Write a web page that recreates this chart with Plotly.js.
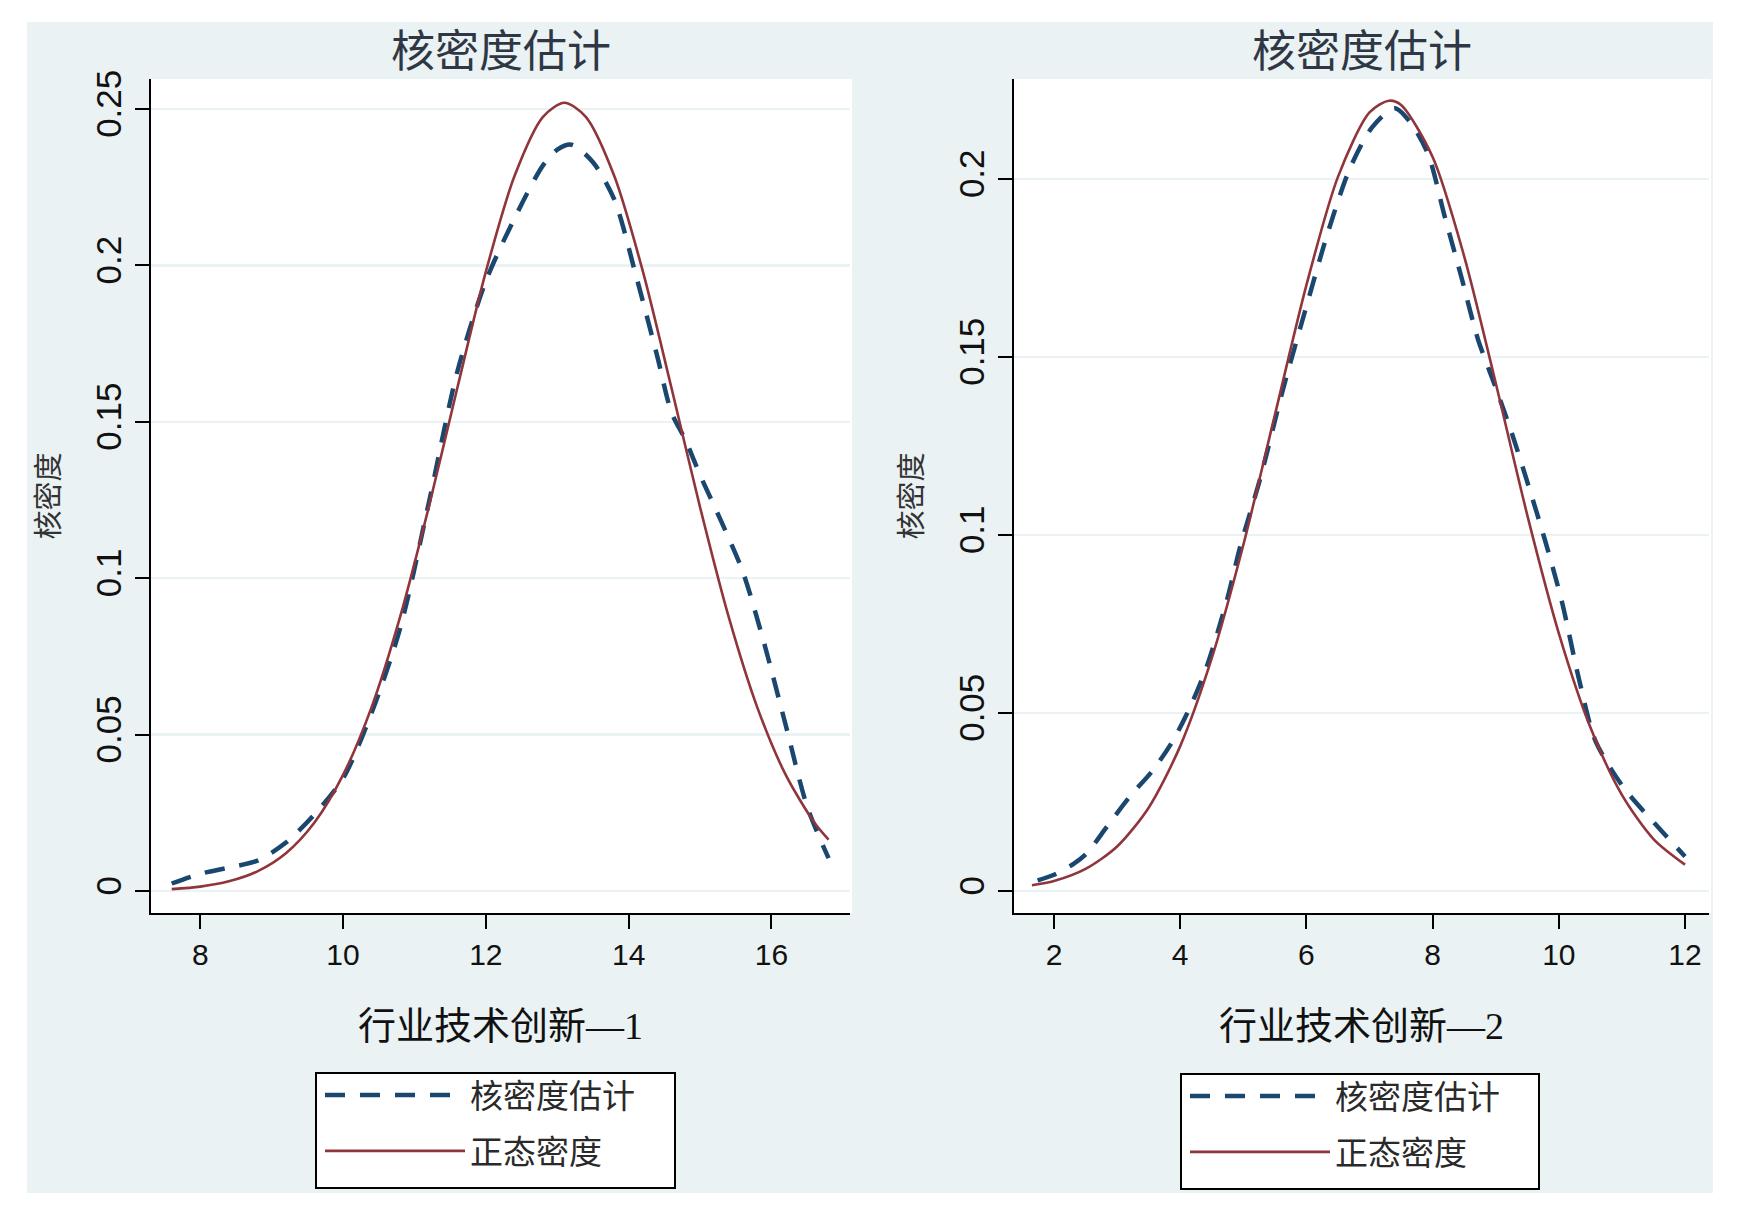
<!DOCTYPE html>
<html>
<head>
<meta charset="utf-8">
<script src="https://cdn.plot.ly/plotly-3.0.1.min.js"></script>
<style>
  html, body { margin: 0; padding: 0; background: #ffffff; }
  #chart { position: absolute; left: 0; top: 0; width: 1745px; height: 1210px; }
</style>
</head>
<body>
<div id="chart"></div>
<script>
// ---------- data ----------
const chartTitle = "核密度估计";
const yTitle = "核密度";
const xTitle1 = "行业技术创新—1";
const xTitle2 = "行业技术创新—2";
const seriesNames = ["核密度估计", "正态密度"];

// panel 1
const x1Kde = [7.6, 8.0, 8.4, 8.8, 9.2, 9.6, 10.0, 10.4, 10.8, 11.2, 11.6, 12.0, 12.4, 12.8, 13.0, 13.2, 13.5, 13.8, 14.1, 14.4, 14.6, 14.8, 15.0, 15.3, 15.6, 15.9, 16.2, 16.5, 16.8];
const y1Kde = [0.0024, 0.0055, 0.0075, 0.0097, 0.0155, 0.0245, 0.036, 0.057, 0.084, 0.124, 0.166, 0.195, 0.215, 0.232, 0.237, 0.2386, 0.233, 0.221, 0.197, 0.171, 0.153, 0.144, 0.133, 0.118, 0.102, 0.079, 0.053, 0.027, 0.0105];
const x1Norm = [7.6, 8.0, 8.4, 8.8, 9.2, 9.6, 10.0, 10.4, 10.8, 11.2, 11.6, 12.0, 12.4, 12.8, 13.1, 13.4, 13.8, 14.2, 14.6, 15.0, 15.4, 15.8, 16.2, 16.6, 16.8];
const y1Norm = [0.0006, 0.0014, 0.0031, 0.0063, 0.0121, 0.0219, 0.0371, 0.0588, 0.0877, 0.1227, 0.1608, 0.198, 0.2285, 0.2475, 0.252, 0.2475, 0.2285, 0.198, 0.1608, 0.1227, 0.0877, 0.0588, 0.0371, 0.0219, 0.0164];
const x1Ticks = [8, 10, 12, 14, 16];
const y1Ticks = [0, 0.05, 0.1, 0.15, 0.2, 0.25];
const y1TickText = ["0", "0.05", "0.1", "0.15", "0.2", "0.25"];

// panel 2
const x2Kde = [1.74, 1.99, 2.31, 2.52, 2.84, 3.20, 3.57, 3.89, 4.16, 4.42, 4.74, 4.95, 5.27, 5.63, 5.98, 6.34, 6.69, 7.04, 7.40, 7.66, 7.93, 8.19, 8.46, 8.72, 8.99, 9.25, 9.52, 9.78, 10.05, 10.32, 10.58, 11.02, 11.55, 12.0];
const y2Kde = [0.0030, 0.0045, 0.0076, 0.0106, 0.0181, 0.0265, 0.0340, 0.0424, 0.0518, 0.0630, 0.0817, 0.0967, 0.1160, 0.1410, 0.1630, 0.1850, 0.2030, 0.2145, 0.2199, 0.2156, 0.2069, 0.1896, 0.1722, 0.1549, 0.1419, 0.1289, 0.1138, 0.0986, 0.0812, 0.0595, 0.0422, 0.0292, 0.0184, 0.0097];
const x2Norm = [1.65, 2.0, 2.5, 3.0, 3.5, 4.0, 4.5, 5.0, 5.5, 6.0, 6.5, 7.0, 7.31, 7.5, 8.0, 8.5, 9.0, 9.5, 10.0, 10.5, 11.0, 11.5, 12.0];
const y2Norm = [0.0016, 0.0028, 0.0062, 0.0125, 0.0234, 0.0407, 0.0654, 0.0972, 0.1337, 0.1702, 0.2006, 0.2187, 0.222, 0.2208, 0.2062, 0.1783, 0.1427, 0.1056, 0.0724, 0.0460, 0.0270, 0.0146, 0.0074];
const x2Ticks = [2, 4, 6, 8, 10, 12];
const y2Ticks = [0, 0.05, 0.1, 0.15, 0.2];
const y2TickText = ["0", "0.05", "0.1", "0.15", "0.2"];

// ---------- styling ----------
const W = 1745, H = 1210;
const BG = "#eaf2f3";
const NAVY = "#1a476f";
const MAROON = "#90353b";
const CJK = "'Noto Sans CJK SC', sans-serif";
const SERIF_CJK = "'Liberation Serif', 'Noto Sans CJK SC', serif";
const NUM = "'Liberation Sans', Arial, sans-serif";

const px = v => v / W;
const py = v => 1 - v / H;

const xd1 = [px(151), px(850)];
const xd2 = [px(1014), px(1709)];
const yd = [py(913), py(79)];

function kdeTrace(x, y, xa, ya, lg) {
  return { x: x, y: y, xaxis: xa, yaxis: ya, type: "scatter", mode: "lines",
    name: seriesNames[0], legend: lg, legendgroup: lg + "a",
    line: { color: NAVY, width: 4.5, dash: "20px,15px", shape: "spline", smoothing: 0.8 } };
}
function normTrace(x, y, xa, ya, lg) {
  return { x: x, y: y, xaxis: xa, yaxis: ya, type: "scatter", mode: "lines",
    name: seriesNames[1], legend: lg, legendgroup: lg + "b",
    line: { color: MAROON, width: 2.6, shape: "spline", smoothing: 0.8 } };
}

const traces = [
  kdeTrace(x1Kde, y1Kde, "x", "y", "legend"),
  normTrace(x1Norm, y1Norm, "x", "y", "legend"),
  kdeTrace(x2Kde, y2Kde, "x2", "y2", "legend2"),
  normTrace(x2Norm, y2Norm, "x2", "y2", "legend2")
];

function xAxis(domain, range, ticks, title, anchor) {
  return {
    domain: domain, range: range, anchor: anchor,
    tickmode: "array", tickvals: ticks, ticktext: ticks.map(String),
    ticks: "outside", ticklen: 14, tickwidth: 2, tickcolor: "#000",
    showline: true, linecolor: "#000", linewidth: 2, mirror: false,
    showgrid: false, zeroline: false,
    tickfont: { family: NUM, size: 30, color: "#111" },
    title: { text: title, standoff: 42, font: { family: SERIF_CJK, size: 38, color: "#111" } },
    automargin: false, fixedrange: true
  };
}
function yAxis(domain, range, ticks, tickText, anchor) {
  return {
    domain: domain, range: range, anchor: anchor,
    tickmode: "array", tickvals: ticks, ticktext: tickText, tickangle: -90,
    ticks: "outside", ticklen: 14, tickwidth: 2, tickcolor: "#000",
    showline: true, linecolor: "#000", linewidth: 2, mirror: false,
    showgrid: true, gridcolor: BG, gridwidth: 2.5, zeroline: false,
    tickfont: { family: NUM, size: 35, color: "#111" },
    title: { text: yTitle, standoff: 21, font: { family: CJK, size: 29, color: "#333" } },
    automargin: false, fixedrange: true
  };
}

const legendBase = {
  xanchor: "left", yanchor: "top", xref: "paper", yref: "paper",
  bgcolor: "rgba(0,0,0,0)", borderwidth: 0,
  font: { family: CJK, size: 33, color: "#2a2a2a" },
  itemwidth: 140, orientation: "v", traceorder: "grouped", tracegroupgap: 10
};

function rect(x0, y0, x1, y1, fill, lineW) {
  return { type: "rect", xref: "paper", yref: "paper", layer: "below",
    x0: px(x0), x1: px(x1), y0: py(y1), y1: py(y0),
    fillcolor: fill, line: { color: "#000", width: lineW } };
}

const layout = {
  width: W, height: H,
  margin: { l: 0, r: 0, t: 0, b: 0 },
  paper_bgcolor: "#ffffff", plot_bgcolor: "rgba(0,0,0,0)",
  showlegend: true,
  xaxis: xAxis(xd1, [7.31, 17.10], x1Ticks, xTitle1, "y"),
  yaxis: yAxis(yd, [-0.00703, 0.2596], y1Ticks, y1TickText, "x"),
  xaxis2: xAxis(xd2, [1.366, 12.38], x2Ticks, xTitle2, "y2"),
  yaxis2: yAxis(yd, [-0.00618, 0.2281], y2Ticks, y2TickText, "x2"),
  legend: Object.assign({}, legendBase, { x: px(320), y: py(1067) }),
  legend2: Object.assign({}, legendBase, { x: px(1185), y: py(1068) }),
  shapes: [
    rect(27, 22, 1713, 1193, BG, 0),
    rect(151, 79, 852, 913, "#ffffff", 0),
    rect(1014, 79, 1711, 913, "#ffffff", 0),
    rect(316, 1073, 675, 1188, "#ffffff", 2),
    rect(1181, 1074, 1539, 1189, "#ffffff", 2)
  ],
  annotations: [
    { text: chartTitle, xref: "paper", yref: "paper", x: (xd1[0] + xd1[1]) / 2, y: py(48),
      xanchor: "center", yanchor: "middle", showarrow: false,
      font: { family: CJK, size: 44, color: "#2f3744" } },
    { text: chartTitle, xref: "paper", yref: "paper", x: (xd2[0] + xd2[1]) / 2, y: py(48),
      xanchor: "center", yanchor: "middle", showarrow: false,
      font: { family: CJK, size: 44, color: "#2f3744" } }
  ]
};

Plotly.newPlot("chart", traces, layout, { displayModeBar: false, staticPlot: true });
</script>
</body>
</html>
